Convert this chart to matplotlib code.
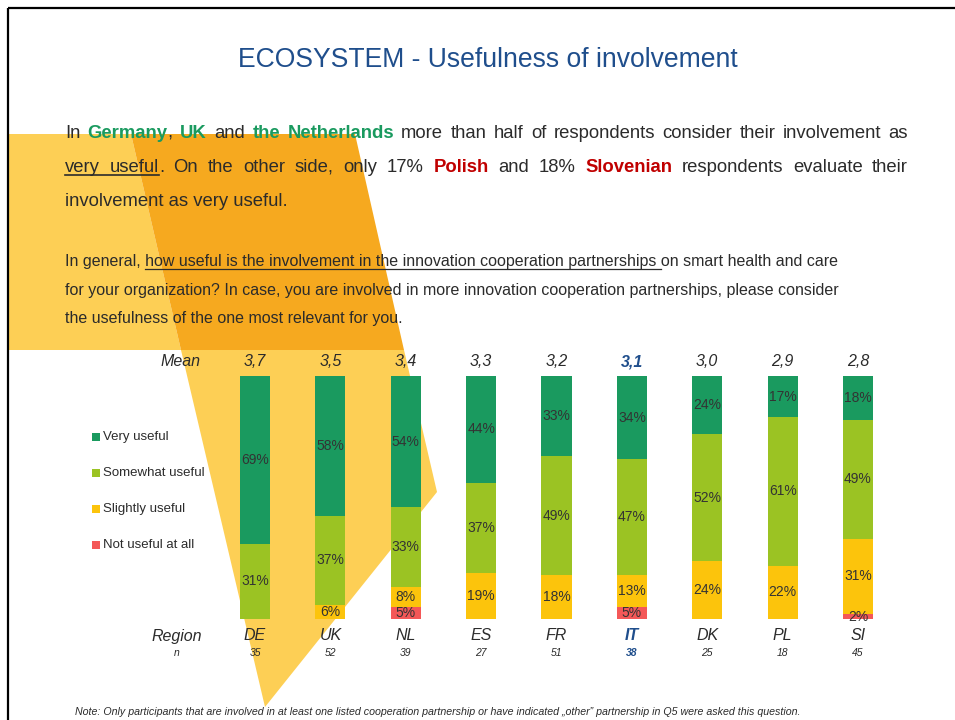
import matplotlib
matplotlib.use("Agg")
import matplotlib.pyplot as plt
from matplotlib.patches import Polygon, Rectangle
from matplotlib.transforms import blended_transform_factory
import numpy as np

plt.rcParams["font.family"] = ["Liberation Sans", "DejaVu Sans"]

W, H = 955, 720

# ---- data ----
regions = ["DE", "UK", "NL", "ES", "FR", "IT", "DK", "PL", "SI"]
n_resp = [35, 52, 39, 27, 51, 38, 25, 18, 45]
means = ["3,7", "3,5", "3,4", "3,3", "3,2", "3,1", "3,0", "2,9", "2,8"]
not_useful = [0, 0, 5, 0, 0, 5, 0, 0, 2]
slightly = [0, 6, 8, 19, 18, 13, 24, 22, 31]
somewhat = [31, 37, 33, 37, 49, 47, 52, 61, 49]
very = [69, 58, 54, 44, 33, 34, 24, 17, 18]
categories = ["Very useful", "Somewhat useful", "Slightly useful", "Not useful at all"]
highlight = "IT"

C_VERY = "#1A9A5F"
C_SOME = "#9BC323"
C_SLIGHT = "#FCC40C"
C_NOT = "#F45858"
NAVY = "#1F4E8C"
GREEN_TXT = "#1A9A5F"
RED_TXT = "#C00000"
TXT = "#2B2B2B"
LIGHT = "#FDCF55"
DARK = "#F6A91F"

fig = plt.figure(figsize=(W / 100, H / 100), dpi=100)
page = fig.add_axes([0, 0, 1, 1], zorder=0)
page.set_xlim(0, W)
page.set_ylim(H, 0)
page.axis("off")

# decorative shapes behind the slide
page.add_patch(Polygon([(8, 134), (131, 134), (181, 350), (8, 350)], fc=LIGHT, ec="none", zorder=1))
page.add_patch(Polygon([(131, 134), (355, 134), (404, 350), (181, 350)], fc=DARK, ec="none", zorder=1))
page.add_patch(Polygon([(181, 350), (404, 350), (437, 492), (265, 707)], fc=LIGHT, ec="none", zorder=1))

# slide border
page.plot([8, 8], [8, H], color="black", lw=1.6, zorder=2, solid_capstyle="butt")
page.plot([8, W], [8, 8], color="black", lw=1.6, zorder=2, solid_capstyle="butt")

page.text(488, 67, "ECOSYSTEM - Usefulness of involvement", fontsize=19.1, color=NAVY,
          ha="center", va="baseline", zorder=3)

renderer = fig.canvas.get_renderer()


def width_of(s, size, weight="normal"):
    t = page.text(0, 0, s, fontsize=size, fontweight=weight)
    w = t.get_window_extent(renderer).width
    t.remove()
    return w


def justify_line(runs, y, x0, x1, size=13.3):
    # runs: (text, color, weight, underline); words spread to fill x0..x1
    words = [[]]
    for text, color, weight, ul in runs:
        for k, p in enumerate(text.split(" ")):
            if k > 0:
                words.append([])
            if p:
                words[-1].append((p, color, weight, ul))
    words = [w for w in words if w]
    widths = [[width_of(p, size, wt) for p, c, wt, ul in w] for w in words]
    total = sum(sum(ws) for ws in widths)
    gap = (x1 - x0 - total) / (len(words) - 1)
    x = x0
    ul_span = []
    for w, ws in zip(words, widths):
        for (p, c, wt, ul), wd in zip(w, ws):
            page.text(x, y, p, fontsize=size, color=c, fontweight=wt,
                      ha="left", va="baseline", zorder=3)
            if ul:
                ul_span += [x, x + wd]
            x += wd
        x += gap
    if ul_span:
        page.plot([min(ul_span), max(ul_span)], [y + 3, y + 3], color=TXT, lw=1.2, zorder=3)


N = "normal"
B = "bold"
justify_line([("In ", TXT, N, False), ("Germany", GREEN_TXT, B, False), (", ", TXT, N, False),
              ("UK", GREEN_TXT, B, False), (" and ", TXT, N, False),
              ("the Netherlands", GREEN_TXT, B, False),
              (" more than half of respondents consider their involvement as", TXT, N, False)],
             138, 65, 908)
justify_line([("very useful", TXT, N, True), (". On the other side, only 17% ", TXT, N, False),
              ("Polish", RED_TXT, B, False), (" and 18% ", TXT, N, False),
              ("Slovenian", RED_TXT, B, False), (" respondents evaluate their", TXT, N, False)],
             172, 65, 908)
page.text(65, 206, "involvement as very useful.", fontsize=13.3, color=TXT,
          ha="left", va="baseline", zorder=3)

# question text, left aligned
q1 = "In general, how useful is the involvement in the innovation cooperation partnerships on smart health and care"
q2 = "for your organization? In case, you are involved in more innovation cooperation partnerships, please consider"
q3 = "the usefulness of the one most relevant for you."
QS = 11.5
for line, yb in zip([q1, q2, q3], [266, 294.5, 323]):
    page.text(65, yb, line, fontsize=QS, color=TXT, ha="left", va="baseline", zorder=3)
ul_a = 65 + width_of("In general, how", QS) - width_of("how", QS)
ul_b = 65 + width_of("In general, how useful is the involvement in the innovation cooperation partnerships o", QS) \
    - width_of("o", QS)
page.plot([ul_a, ul_b], [268.5, 268.5], color=TXT, lw=0.9, zorder=3)

# legend
leg_colors = [C_VERY, C_SOME, C_SLIGHT, C_NOT]
for k, (lab, col) in enumerate(zip(categories, leg_colors)):
    yc = 437 + 36 * k
    page.add_patch(Rectangle((92, yc - 4), 8, 8, fc=col, ec="none", zorder=3))
    page.text(103, yc, lab, fontsize=9.5, color=TXT, ha="left", va="center", zorder=3)

page.text(75, 712, "Note: Only participants that are involved in at least one listed cooperation "
          "partnership or have indicated \u201eother\u201d partnership in Q5 were asked this question.",
          fontsize=7.7, style="italic", color=TXT, ha="left", va="center", zorder=3)

# ---- stacked bars ----
x = np.arange(len(regions))
step = (858 - 255) / 8
ax = fig.add_axes([(255 - step / 2) / W, (H - 619) / H, 9 * step / W, 243 / H], zorder=1)
ax.patch.set_visible(False)
ax.set_xlim(-0.5, len(regions) - 0.5)
ax.set_ylim(0, 100)
ax.axis("off")

stack = np.array([not_useful, slightly, somewhat, very], dtype=float)
stack = stack / stack.sum(axis=0) * 100
raw = [not_useful, slightly, somewhat, very]
cols = [C_NOT, C_SLIGHT, C_SOME, C_VERY]
bottom = np.zeros(len(regions))
for vals, rv, col in zip(stack, raw, cols):
    ax.bar(x, vals, bottom=bottom, width=0.4, color=col, edgecolor="none")
    for i in range(len(regions)):
        if rv[i] > 0:
            ax.text(x[i], bottom[i] + vals[i] / 2, f"{rv[i]}%", ha="center", va="center",
                    fontsize=10, color="#333333")
    bottom += vals

trans = blended_transform_factory(ax.transData, page.transData)
page.text(180, 362, "Mean", fontsize=11.5, style="italic", color=TXT, ha="center", va="center")
page.text(177, 636, "Region", fontsize=11.5, style="italic", color=TXT, ha="center", va="center")
page.text(177, 653, "n", fontsize=7.5, style="italic", color=TXT, ha="center", va="center")
for i, reg in enumerate(regions):
    hl = reg == highlight
    col = NAVY if hl else TXT
    wt = "bold" if hl else "normal"
    ax.text(x[i], 362, means[i], transform=trans, fontsize=11.5, style="italic",
            color=col, fontweight=wt, ha="center", va="center", clip_on=False)
    ax.text(x[i], 636, reg, transform=trans, fontsize=11.5, style="italic",
            color=col, fontweight=wt, ha="center", va="center", clip_on=False)
    ax.text(x[i], 653, str(n_resp[i]), transform=trans, fontsize=7.5, style="italic",
            color=col, fontweight=wt, ha="center", va="center", clip_on=False)

fig.savefig("out.png", dpi=100)
